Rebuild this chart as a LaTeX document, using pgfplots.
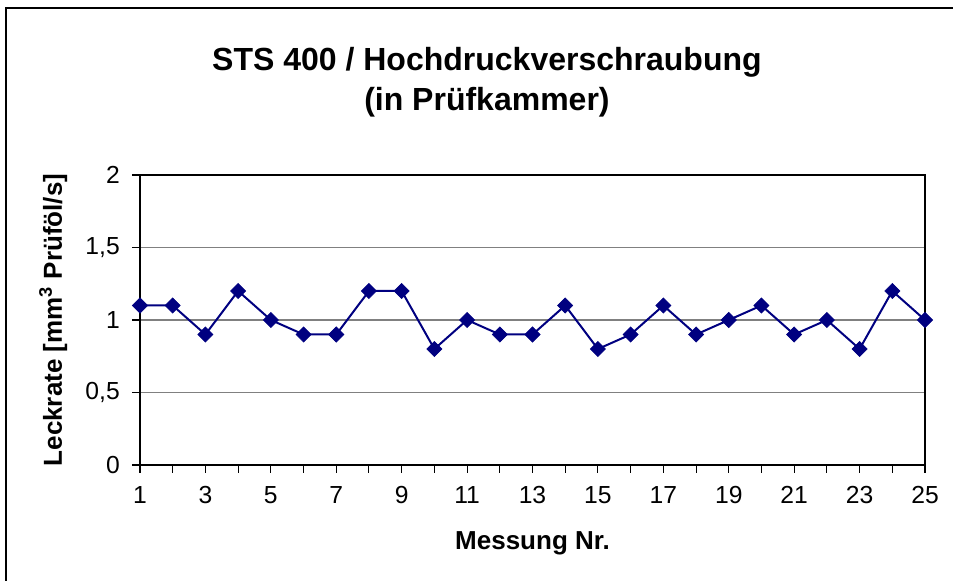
\documentclass[border=0pt]{standalone}
\usepackage{pgfplots}
\pgfplotsset{compat=1.18}
\usepackage{fontspec}
\setmainfont{Liberation Sans}
\definecolor{navy}{RGB}{0,0,128}
\definecolor{gridgray}{RGB}{128,128,128}
\begin{document}
\begin{tikzpicture}
\begin{axis}[
  scale only axis, width=588.75pt, height=217.5pt,
  xmin=1, xmax=25, ymin=0, ymax=2,
  xtick={1,...,25},
  xticklabels={1,,3,,5,,7,,9,,11,,13,,15,,17,,19,,21,,23,,25},
  ytick={0,0.5,1,1.5,2},
  yticklabels={0,{0,5},1,{1,5},2},
  tick align=outside, major tick length=6pt,
  tick pos=left,
  tick style={black, line width=0.8pt},
  ymajorgrids, grid style={gridgray, line width=1pt},
  axis line style={black, line width=1pt},
  ticklabel style={font=\fontsize{18.5}{22}\selectfont},
  xticklabel style={anchor=base, yshift=-22.5pt},
  yticklabel style={anchor=east, inner sep=0pt, xshift=-9pt},
  xlabel={\textbf{Messung Nr.}},
  ylabel={\textbf{Leckrate [mm\textsuperscript{3} Prüföl/s]}},
  label style={font=\fontsize{19.5}{23}\selectfont},
  xlabel style={at={([yshift=-63.75pt]axis description cs:0.5,0)}, anchor=base},
  ylabel style={at={([xshift=-58.5pt]axis description cs:0,0.5)}, anchor=base},
  title={\textbf{STS 400 / Hochdruckverschraubung}\\\textbf{(in Prüfkammer)}},
  title style={font=\fontsize{24}{30}\selectfont, align=center, at={(axis description cs:0.442,1.1965)}, anchor=base},
  clip=false,
]
\addplot[navy, line width=1.5pt, mark=square*, mark size=4pt,
  mark options={rotate=45, fill=navy, draw=navy, solid, line width=0.5pt}]
  table {
x y
1 1.1
2 1.1
3 0.9
4 1.2
5 1.0
6 0.9
7 0.9
8 1.2
9 1.2
10 0.8
11 1.0
12 0.9
13 0.9
14 1.1
15 0.8
16 0.9
17 1.1
18 0.9
19 1.0
20 1.1
21 0.9
22 1.0
23 0.8
24 1.2
25 1.0
};
\coordinate (O) at (rel axis cs:0,0);
\end{axis}
\draw[line width=1.5pt, line cap=rect] ([xshift=-100.5pt,yshift=-87pt]O) -- ([xshift=-100.5pt,yshift=342.75pt]O) -- ([xshift=609.75pt,yshift=342.75pt]O);
\pgfresetboundingbox
\path[use as bounding box] ([xshift=-105pt,yshift=-87pt]O) rectangle ([xshift=609.75pt,yshift=348.75pt]O);
\end{tikzpicture}
\end{document}
